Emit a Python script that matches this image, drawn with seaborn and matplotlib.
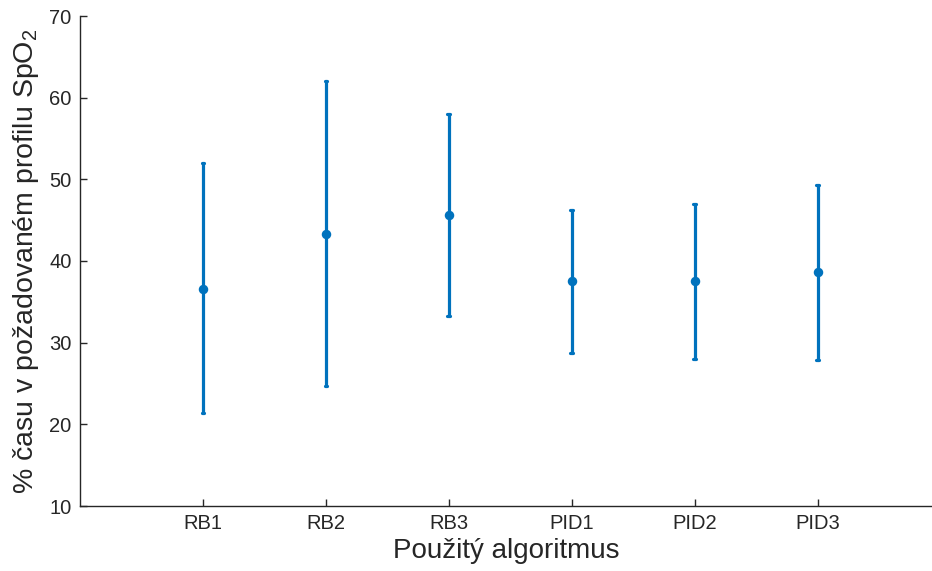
import matplotlib
matplotlib.use("Agg")
import matplotlib.pyplot as plt
import seaborn as sns
import pandas as pd

categories = ["RB1", "RB2", "RB3", "PID1", "PID2", "PID3"]
means = [36.6, 43.3, 45.6, 37.5, 37.5, 38.6]
lows = [21.4, 24.7, 33.3, 28.7, 28.0, 27.9]
highs = [52.0, 62.0, 58.0, 46.2, 47.0, 49.3]
yticks = [10, 20, 30, 40, 50, 60, 70]

rows = []
for c, lo, m, hi in zip(categories, lows, means, highs):
    for v in (lo, m, hi):
        rows.append({"alg": c, "val": v})
df = pd.DataFrame(rows)

sns.set_style("ticks")
plt.rcParams["font.family"] = ["Liberation Sans", "DejaVu Sans"]
plt.rcParams["mathtext.fontset"] = "custom"
plt.rcParams["mathtext.rm"] = "Liberation Sans"
plt.rcParams["mathtext.it"] = "Liberation Sans"

fig = plt.figure(figsize=(9.32, 5.71), dpi=100)
ax = fig.add_axes([80/932, (571-506)/571, 1 - 80/932, (506-16)/571])

color = "#0072BD"
sns.pointplot(data=df, x="alg", y="val", order=categories, estimator="median",
              errorbar=("pi", 100), capsize=0.022, color=color, linestyle="none",
              marker="o", markersize=4.8, err_kws={"linewidth": 2.3}, ax=ax)

ax.set_xlim(-1, 5.93)
ax.set_ylim(10, 70)
ax.set_yticks(yticks)
ax.set_yticklabels([str(t) for t in yticks])
sns.despine(ax=ax)
dark = "#262626"
for s in ("left", "bottom"):
    ax.spines[s].set_color(dark)
    ax.spines[s].set_linewidth(1.0)
ax.tick_params(direction="in", length=5, width=1.0, color=dark, labelcolor=dark,
               labelsize=14.5, pad=6)
ax.set_xlabel("Použitý algoritmus", fontsize=20, color=dark, labelpad=3)
ax.set_ylabel("% času v požadovaném profilu SpO$_2$", fontsize=20.5, color=dark, labelpad=6)

fig.savefig("out.png", dpi=100)
